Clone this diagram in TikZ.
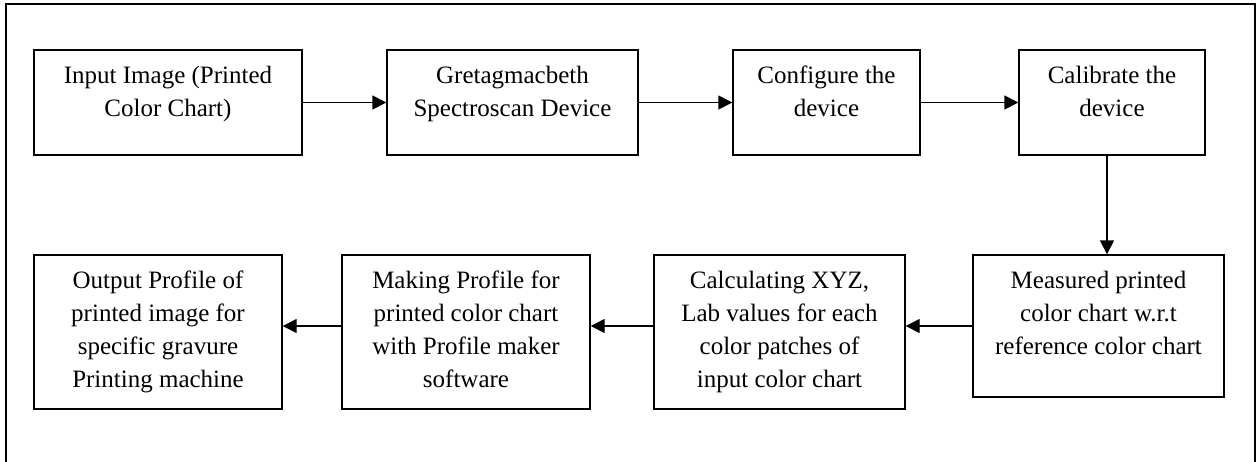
\documentclass[tikz,border=0pt]{standalone}
\usepackage{fontspec}
\setmainfont{Liberation Serif}
\usetikzlibrary{arrows.meta}

% box text: width, height (in px of the layout), lines
\newcommand{\stagetext}[3]{\parbox[t][\dimexpr#2pt/2\relax][t]{\dimexpr#1pt/2\relax}{\centering\rule{0pt}{16.5pt}#3}}

\begin{document}
\begin{tikzpicture}[
    x=0.5pt, y=-0.5pt,
    stage/.style={draw, line width=0.7pt, inner sep=0pt, font=\fontsize{12.5pt}{16.5pt}\selectfont},
    flow/.style={-{Triangle[length=7pt,width=7pt]}, line width=0.7pt}
]
    \useasboundingbox (0,0) rectangle (1258,461);
    \draw[line width=0.9pt] (6,475) -- (6,4) -- (1255,4) -- (1255,475);

    \node[stage] (input)  at (168, 102.5)  {\stagetext{268}{105}{Input Image (Printed\\Color Chart)}};
    \node[stage] (greta)  at (512.5, 102.5) {\stagetext{251}{105}{Gretagmacbeth\\Spectroscan Device}};
    \node[stage] (config) at (826.5, 102.5) {\stagetext{187}{105}{Configure the\\device}};
    \node[stage] (calib)  at (1112, 102.5)  {\stagetext{186}{105}{Calibrate the\\device}};

    \node[stage] (meas)   at (1098.5, 326)  {\stagetext{251}{142}{Measured printed\\color chart w.r.t\\reference color chart}};
    \node[stage] (calc)   at (779.5, 332)   {\stagetext{251}{154}{Calculating XYZ,\\Lab values for each\\color patches of\\input color chart}};
    \node[stage] (make)   at (466, 332)     {\stagetext{248}{154}{Making Profile for\\printed color chart\\with Profile maker\\software}};
    \node[stage] (output) at (158, 332)     {\stagetext{248}{154}{Output Profile of\\printed image for\\specific gravure\\Printing machine}};

    \draw[flow] (input) -- (greta);
    \draw[flow] (greta) -- (config);
    \draw[flow] (config) -- (calib);
    \draw[flow] ([xshift=-2.5pt]calib.south) -- ([xshift=-2.5pt]calib.south |- meas.north);

    \draw[flow] (meas.west) -- (meas.west -| calc.east);
    \draw[flow] (meas.west -| calc.west) -- (meas.west -| make.east);
    \draw[flow] (meas.west -| make.west) -- (meas.west -| output.east);
\end{tikzpicture}
\end{document}
